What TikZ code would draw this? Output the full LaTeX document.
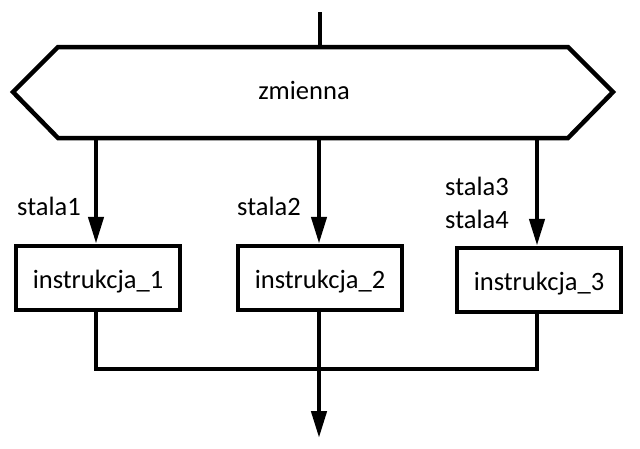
\documentclass[tikz,border=0pt]{standalone}
\usepackage{fontspec}
\setmainfont{Carlito}
\usetikzlibrary{arrows.meta}
\begin{document}
\begin{tikzpicture}[x=1pt,y=-1pt,
  ln/.style={line width=4.5pt},
  txt/.style={font=\fontsize{26.5}{30}\selectfont},
  box/.style={txt,draw,line width=4.5pt,minimum width=164pt,minimum height=64pt,inner sep=0pt,text height=20pt,text depth=0pt},
  lbl/.style={txt,inner sep=0pt,anchor=base west},
  arr/.style={ln,-{Triangle[length=27pt,width=15pt]}}]
\useasboundingbox (0,0) rectangle (640,448);
% hexagon
\draw[ln,line join=miter] (58,47) -- (568,47) -- (613,92) -- (568,138) -- (58,138) -- (13,92) -- cycle;
\node[txt,inner sep=0pt,anchor=base] (zm) at (304,99) {zmienna};
\coordinate (top) at (320,12);
\coordinate (htop) at (320,47);
\coordinate (h1) at (96,138);
\coordinate (h2) at (319,138);
\coordinate (h3) at (537,138);
\draw[ln] (top) -- (htop);
% boxes
\node[box] (b1) at (98,278) {instrukcja\_1};
\node[box] (b2) at (320,278) {instrukcja\_2};
\node[box] (b3) at (539,280) {instrukcja\_3};
\draw[arr] (h1) -- (b1.north -| h1);
\draw[arr] (h2) -- (b2.north -| h2);
\draw[arr] (h3) -- (b3.north -| h3);
% labels
\node[lbl] (s1) at (17,215) {stala1};
\node[lbl] (s2) at (237,215) {stala2};
\node[lbl] (s3) at (445,195) {stala3};
\node[lbl] (s4) at (445,228) {stala4};
% merge
\coordinate (m1) at (96,369);
\coordinate (m3) at (537,369);
\coordinate (m2) at (319,369);
\coordinate (out) at (319,438);
\draw[ln] (b1.south -| m1) -- (m1) -- (m3) -- (b3.south -| m3);
\draw[arr] (b2.south -| m2) -- (out);
\end{tikzpicture}
\end{document}
